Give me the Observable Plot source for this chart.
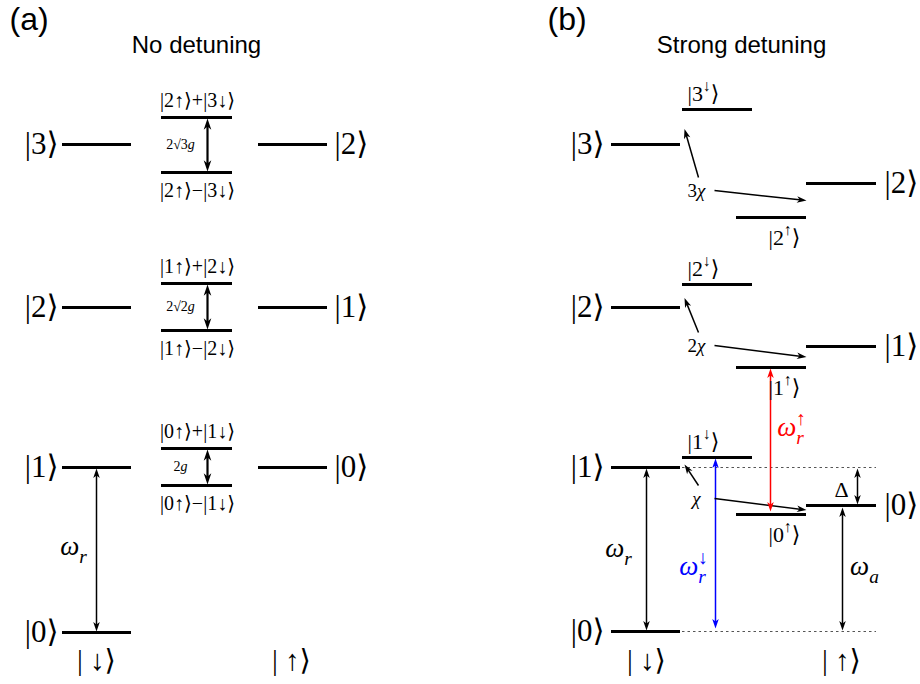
<!DOCTYPE html>
<html><head><meta charset="utf-8">
<script src="https://cdn.jsdelivr.net/npm/d3@7"></script>
<script src="https://cdn.jsdelivr.net/npm/@observablehq/plot@0.6"></script>
<style>body{margin:0;background:#fff}</style>
</head><body><div id="chart"></div>
<script>
// ---------------- data (energies, px units) ----------------
const panelTags = ["(a)", "(b)"];
const panelTitles = ["No detuning", "Strong detuning"];
const spinLabels = ["| ↓⟩", "| ↑⟩"];

// Panel (a): bare states
const aDownKets = ["|3⟩", "|2⟩", "|1⟩", "|0⟩"];
const aDownE    = [144, 307, 467, 632];
const aUpKets   = ["|2⟩", "|1⟩", "|0⟩"];
const aUpE      = [144, 307, 467];
// Panel (a): dressed doublets
const aPlusKets  = ["|2↑⟩+|3↓⟩", "|1↑⟩+|2↓⟩", "|0↑⟩+|1↓⟩"];
const aMinusKets = ["|2↑⟩−|3↓⟩", "|1↑⟩−|2↓⟩", "|0↑⟩−|1↓⟩"];
const aPlusE     = [117, 283, 448];
const aMinusE    = [172, 330, 485];
const aSplits    = ["2√3*g*", "2√2*g*", "2*g*"];

// Panel (b): bare and dispersively shifted states
const bDownKets = ["|3⟩", "|2⟩", "|1⟩", "|0⟩"];
const bDownE    = [144, 307, 467, 631];
const bUpKets   = ["|2⟩", "|1⟩", "|0⟩"];
const bUpE      = [183, 346, 505];
const bShiftDownKets = ["|3^{↓}⟩", "|2^{↓}⟩", "|1^{↓}⟩"];
const bShiftDownE    = [109, 284, 457];
const bShiftUpKets   = ["|2^{↑}⟩", "|1^{↑}⟩", "|0^{↑}⟩"];
const bShiftUpE      = [217, 367, 514];
const bChiLabels     = ["3*χ*", "2*χ*", "*χ*"];
const bChiE          = [190, 345, 498];

// transition labels
const freqLabels = {wr: "*ω*_{*r*}", wrDown: "*ω*_{*r*}^{↓}", wrUp: "*ω*_{*r*}^{↑}", wa: "*ω*_{*a*}", delta: "Δ"};

// ---------------- layout ----------------
const serif = "'Liberation Serif', 'DejaVu Serif', serif";
const sans = "'Liberation Sans', Arial, sans-serif";
const A = {left: [62, 131], mid: [161, 232], right: [258, 327]};
const B = {left: [611, 680], down: [682, 752], up: [736, 806], right: [806, 876]};

const levels = [];
const addLevels = (E, col) => E.forEach(y => levels.push({x1: col[0], x2: col[1], y}));
addLevels(aDownE, A.left); addLevels(aUpE, A.right);
addLevels(aPlusE, A.mid); addLevels(aMinusE, A.mid);
addLevels(bDownE, B.left); addLevels(bUpE, B.right);
addLevels(bShiftDownE, B.down); addLevels(bShiftUpE, B.up);

const dotted = [bDownE[2], bDownE[3]].map(y => ({x1: B.down[0], x2: B.right[1], y}));

// arrows
const lines = [], headsBig = [], headsSmall = [];
function arrow(x1, y1, x2, y2, color, both, big) {
  const L = big ? 11 : 9.5;
  const dx = x2 - x1, dy = y2 - y1, len = Math.hypot(dx, dy), ux = dx / len, uy = dy / len;
  const s = L * 0.5;
  lines.push({x1: both ? x1 + ux * s : x1, y1: both ? y1 + uy * s : y1, x2: x2 - ux * s, y2: y2 - uy * s,
    color, w: big ? 2.2 : 1.5});
  const heads = big ? headsBig : headsSmall;
  const ang = Math.atan2(dx, -dy) * 180 / Math.PI;
  heads.push({x: x2, y: y2, rot: ang, color});
  if (both) heads.push({x: x1, y: y1, rot: ang + 180, color});
}
// panel (a)
arrow(96, aDownE[2] + 1, 96, aDownE[3] - 1, "black", true, false);
aPlusE.forEach((e, i) => arrow(207, e + 1, 207, aMinusE[i] - 1, "black", true, true));
// panel (b)
arrow(646, bDownE[2] + 1, 646, bDownE[3] - 1, "black", true, false);
arrow(715, bShiftDownE[2] + 1, 715, bDownE[3] - 3, "#0000ff", true, false);
arrow(770, bShiftUpE[1] + 1, 770, bShiftUpE[2] - 3, "#ff0000", true, false);
arrow(857, bDownE[2] + 1, 857, bUpE[2] - 1, "black", true, false);
arrow(842, bUpE[2] + 2, 842, bDownE[3] - 1, "black", true, false);
bChiE.forEach((e, i) => {
  arrow(698, e - 13, 684, (bDownE[i] + bShiftDownE[i]) / 2 + 2, "black", false, false);
  arrow(714, e, 806, (bUpE[i] + bShiftUpE[i]) / 2, "black", false, false);
});

const stealth = {
  draw(ctx, size) {
    const r = Math.sqrt(size / Math.PI), L = 2 * r, w = 0.68 * r;
    ctx.moveTo(0, 0); ctx.lineTo(w, L); ctx.lineTo(0, 0.72 * L); ctx.lineTo(-w, L); ctx.closePath();
  }
};

// text items
const T = (x, y, text, extra = {}) => ({x, y, text, ...extra});
const ketsEnd = [
  ...aDownKets.map((k, i) => T(A.left[0] - 4, aDownE[i], k)),
  ...bDownKets.map((k, i) => T(B.left[0] - 7, bDownE[i], k))
];
const ketsStart = [
  ...aUpKets.map((k, i) => T(A.right[1] + 7, aUpE[i], k)),
  ...bUpKets.map((k, i) => T(B.right[1] + 8, bUpE[i], k))
];
const dressed = [
  ...aPlusKets.map((k, i) => T(197, aPlusE[i] - 17, k)),
  ...aMinusKets.map((k, i) => T(197, aMinusE[i] + 18, k))
];
const splits = aSplits.map((k, i) => T(180, (aPlusE[i] + aMinusE[i]) / 2, k));
const shifted = [
  ...bShiftDownKets.map((k, i) => T(703, bShiftDownE[i] - 16, k)),
  ...bShiftUpKets.map((k, i) => T(784, bShiftUpE[i] + 20, k))
];
const chis = bChiLabels.map((k, i) => T(696, bChiE[i], k));
const freqs = [
  T(73, 546, freqLabels.wr, {c: "black"}),
  T(618, 548, freqLabels.wr, {c: "black"}),
  T(693, 566, freqLabels.wrDown, {c: "#0000ff"}),
  T(791, 427, freqLabels.wrUp, {c: "#ff0000"}),
  T(864, 566, freqLabels.wa, {c: "black"})
];
const deltas = [T(841, 489, freqLabels.delta)];
const spins = [
  T(96, 660, spinLabels[0]), T(291, 660, spinLabels[1]),
  T(646, 660, spinLabels[0]), T(841, 660, spinLabels[1])
];
const tags = [T(9, 19, panelTags[0]), T(547, 19, panelTags[1])];
const titles = [T(196, 45, panelTitles[0]), T(741, 45, panelTitles[1])];

const chart = Plot.plot({
  width: 920, height: 684, margin: 0,
  x: {domain: [0, 920], range: [0, 920], axis: null},
  y: {domain: [0, 684], range: [0, 684], axis: null},
  color: {type: "identity"},
  style: {background: "white"},
  marks: [
    Plot.ruleY(dotted, {y: "y", x1: "x1", x2: "x2", stroke: "#555", strokeWidth: 1.2, strokeDasharray: "2.5,3"}),
    Plot.ruleY(levels, {y: "y", x1: "x1", x2: "x2", stroke: "black", strokeWidth: 3}),
    Plot.link(lines, {x1: "x1", y1: "y1", x2: "x2", y2: "y2", stroke: "color", strokeWidth: "w"}),
    Plot.dot(headsSmall, {x: "x", y: "y", rotate: "rot", fill: "color", r: 4.8, symbol: stealth}),
    Plot.dot(headsBig, {x: "x", y: "y", rotate: "rot", fill: "color", r: 5.6, symbol: stealth}),
    Plot.text(ketsEnd, {x: "x", y: "y", text: "text", textAnchor: "end", fontSize: 31, fontFamily: serif, fill: "black"}),
    Plot.text(ketsStart, {x: "x", y: "y", text: "text", textAnchor: "start", fontSize: 31, fontFamily: serif, fill: "black"}),
    Plot.text(dressed, {x: "x", y: "y", text: "text", fontSize: 20, fontFamily: serif, fill: "black"}),
    Plot.text(splits, {x: "x", y: "y", text: "text", fontSize: 14, fontFamily: serif, fill: "black"}),
    Plot.text(shifted, {x: "x", y: "y", text: "text", fontSize: 22, fontFamily: serif, fill: "black"}),
    Plot.text(chis, {x: "x", y: "y", text: "text", fontSize: 19, fontFamily: serif, fill: "black"}),
    Plot.text(freqs, {x: "x", y: "y", text: "text", fontSize: 27, fontFamily: serif, fill: "c"}),
    Plot.text(deltas, {x: "x", y: "y", text: "text", fontSize: 22, fontFamily: serif, fill: "black"}),
    Plot.text(spins, {x: "x", y: "y", text: "text", fontSize: 29, fontFamily: serif, fill: "black"}),
    Plot.text(tags, {x: "x", y: "y", text: "text", textAnchor: "start", fontSize: 32, fontFamily: sans, fill: "black"}),
    Plot.text(titles, {x: "x", y: "y", text: "text", fontSize: 24, fontFamily: sans, fill: "black"})
  ]
});
document.getElementById("chart").append(chart);

// -------- rich text: *italic*, _{sub}, ^{sup} rendered as tspans --------
const svgns = "http://www.w3.org/2000/svg";
function parseRich(s) {
  const segs = []; let mode = "n", italic = false, buf = "";
  const push = () => { if (buf) { segs.push({text: buf, mode, italic}); buf = ""; } };
  for (let i = 0; i < s.length; i++) {
    const c = s[i];
    if ((c === "_" || c === "^") && s[i + 1] === "{") { push(); mode = c === "_" ? "sub" : "sup"; i++; continue; }
    if (c === "}" && mode !== "n") { push(); mode = "n"; continue; }
    if (c === "*") { push(); italic = !italic; continue; }
    buf += c;
  }
  push(); return segs;
}
chart.querySelectorAll("text").forEach(t => {
  const s = t.textContent;
  if (!/\*|_\{|\^\{/.test(s)) return;
  const fs = parseFloat(getComputedStyle(t).fontSize) || 16;
  const segs = parseRich(s);
  t.textContent = "";
  let cur = 0, subW = 0, prevMode = "n";
  for (const seg of segs) {
    const ts = document.createElementNS(svgns, "tspan");
    ts.textContent = seg.text;
    if (seg.italic) ts.setAttribute("font-style", "italic");
    const target = seg.mode === "sub" ? 0.3 * fs : seg.mode === "sup" ? -0.42 * fs : 0;
    if (seg.mode !== "n") ts.setAttribute("font-size", (0.72 * fs).toFixed(1));
    const dy = target - cur;
    if (dy) ts.setAttribute("dy", dy.toFixed(2));
    if (seg.mode === "sup" && prevMode === "sub") ts.setAttribute("dx", (-subW).toFixed(2));
    t.appendChild(ts);
    if (seg.mode === "sub") subW += ts.getComputedTextLength(); else subW = 0;
    cur = target; prevMode = seg.mode;
  }
});
</script>
</body></html>
